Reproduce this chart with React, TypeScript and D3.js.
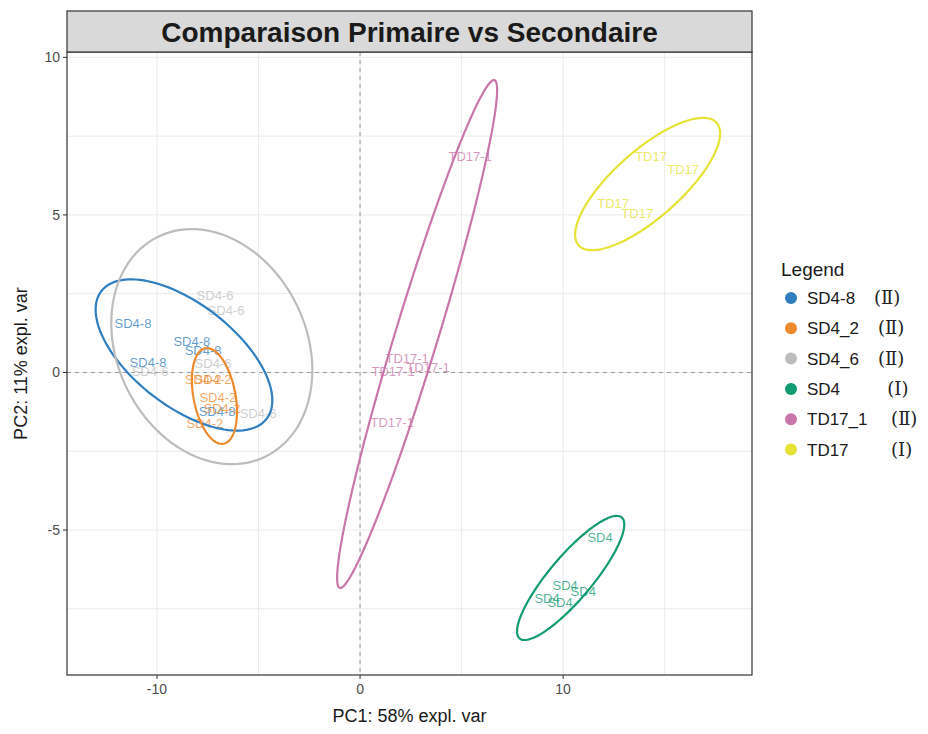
import React from "react";
import * as d3 from "d3";

// ---- data ----
const groups = ["SD4-8", "SD4_2", "SD4_6", "SD4", "TD17_1", "TD17"];
const groupColors = ["#2F7EC0", "#EE8A2E", "#BDBDBD", "#129A72", "#C977AA", "#E6E236"];
const legendLabels = [
  "SD4-8    (Ⅱ)",
  "SD4_2    (Ⅱ)",
  "SD4_6    (Ⅱ)",
  "SD4          (Ⅰ)",
  "TD17_1     (Ⅱ)",
  "TD17         (Ⅰ)",
];
const pointLabels = ["SD4-8", "SD4-2", "SD4-6", "SD4", "TD17-1", "TD17"];

// sample scores (PC1, PC2) per group
const pc1SD48 = [-11.18, -8.28, -7.73, -10.44, -7.04];
const pc2SD48 = [1.57, 1.0, 0.71, 0.33, -1.25];
const pc1SD42 = [-7.73, -7.24, -7.0, -6.8, -7.64];
const pc2SD42 = [-0.21, -0.21, -0.78, -1.13, -1.63];
const pc1SD46 = [-7.14, -6.6, -7.24, -10.34, -5.02];
const pc2SD46 = [2.46, 1.98, 0.3, 0.02, -1.29];
const pc1SD4 = [11.82, 10.1, 10.99, 9.21, 9.85];
const pc2SD4 = [-5.22, -6.75, -6.94, -7.16, -7.29];
const pc1TD171 = [5.42, 2.32, 1.63, 3.35, 1.58];
const pc2TD171 = [6.84, 0.46, 0.02, 0.17, -1.6];
const pc1TD17 = [14.33, 15.91, 12.46, 13.65];
const pc2TD17 = [6.84, 6.43, 5.35, 5.06];

// ellipse parameters per group: center, half-extents, correlation
const ellCx = [-8.67, -7.17, -7.3, 10.37, 2.81, 14.16];
const ellCy = [0.556, -0.746, 0.82, -6.52, 1.22, 5.98];
const ellXh = [4.35, 1.11, 4.95, 2.64, 3.94, 3.57];
const ellYh = [2.4, 1.52, 3.73, 1.97, 8.06, 2.1];
const ellR = [-0.6, -0.33, -0.2, 0.86, 0.96, 0.765];

const xTicks = [-10, 0, 10];
const yTicks = [-5, 0, 5, 10];
const xMinor = [-5, 5, 15];
const yMinor = [-7.5, -2.5, 2.5, 7.5];

const titleText = "Comparaison Primaire vs Secondaire";
const xTitle = "PC1: 58% expl. var";
const yTitle = "PC2: 11% expl. var";
const legendTitle = "Legend";

const pc1s = [pc1SD48, pc1SD42, pc1SD46, pc1SD4, pc1TD171, pc1TD17];
const pc2s = [pc2SD48, pc2SD42, pc2SD46, pc2SD4, pc2TD171, pc2TD17];

export default function App() {
  const W = 928, H = 734;
  const pL = 67, pR = 752, pT = 52, pB = 675;
  const x = d3.scaleLinear().domain([-14.43, 19.3]).range([pL, pR]);
  const y = d3.scaleLinear().domain([-9.6, 10.17]).range([pB, pT]);
  const font = "'Liberation Sans', Arial, sans-serif";

  const ellipsePath = (i: number) => {
    const n = 120;
    const s = Math.sqrt(1 - ellR[i] * ellR[i]);
    const pts: [number, number][] = d3.range(n).map((k) => {
      const t = (2 * Math.PI * k) / n;
      return [ellCx[i] + ellXh[i] * Math.cos(t), ellCy[i] + ellYh[i] * (ellR[i] * Math.cos(t) + s * Math.sin(t))];
    });
    return d3
      .line<[number, number]>()
      .x((d) => x(d[0]))
      .y((d) => y(d[1]))
      .curve(d3.curveLinearClosed)(pts) as string;
  };

  const legY0 = 298, legStep = 30.3;

  return (
    <svg width={W} height={H} style={{ position: "absolute", left: 0, top: 0, background: "#fff" }}>
      <rect x={0} y={0} width={W} height={H} fill="#fff" />
      {/* grid */}
      {xMinor.concat(xTicks).map((v, i) => (
        <line key={"gx" + i} x1={x(v)} x2={x(v)} y1={pT} y2={pB} stroke="#EBEBEB" strokeWidth={1} />
      ))}
      {yMinor.concat(yTicks).map((v, i) => (
        <line key={"gy" + i} x1={pL} x2={pR} y1={y(v)} y2={y(v)} stroke="#EBEBEB" strokeWidth={1} />
      ))}
      {/* zero lines */}
      <line x1={x(0)} x2={x(0)} y1={pT} y2={pB} stroke="#9A9A9A" strokeWidth={1} strokeDasharray="4,4" />
      <line x1={pL} x2={pR} y1={y(0)} y2={y(0)} stroke="#9A9A9A" strokeWidth={1} strokeDasharray="4,4" />
      {/* labels */}
      {groups.map((g, gi) =>
        pc1s[gi].map((v, k) => (
          <text
            key={g + k}
            x={x(v)}
            y={y(pc2s[gi][k])}
            dy="0.35em"
            textAnchor="middle"
            fontFamily={font}
            fontSize={13}
            fill={groupColors[gi]}
            fillOpacity={0.75}
          >
            {pointLabels[gi]}
          </text>
        ))
      )}
      {/* ellipses */}
      {groups.map((g, gi) => (
        <path key={"e" + g} d={ellipsePath(gi)} fill="none" stroke={groupColors[gi]} strokeWidth={2.2} />
      ))}
      {/* panel border */}
      <rect x={pL} y={pT} width={pR - pL} height={pB - pT} fill="none" stroke="#333" strokeWidth={1.2} />
      {/* strip */}
      <rect x={pL} y={11} width={pR - pL} height={pT - 11} fill="#D9D9D9" stroke="#333" strokeWidth={1.2} />
      <text x={(pL + pR) / 2} y={42} textAnchor="middle" fontFamily={font} fontWeight="bold" fontSize={28} fill="#1A1A1A">
        {titleText}
      </text>
      {/* axes ticks */}
      {xTicks.map((v) => (
        <g key={"xt" + v}>
          <line x1={x(v)} x2={x(v)} y1={pB} y2={pB + 4} stroke="#333" />
          <text x={x(v)} y={pB + 19} textAnchor="middle" fontFamily={font} fontSize={14} fill="#4D4D4D">
            {v}
          </text>
        </g>
      ))}
      {yTicks.map((v) => (
        <g key={"yt" + v}>
          <line x1={pL - 4} x2={pL} y1={y(v)} y2={y(v)} stroke="#333" />
          <text x={pL - 7} y={y(v)} dy="0.35em" textAnchor="end" fontFamily={font} fontSize={14} fill="#4D4D4D">
            {v}
          </text>
        </g>
      ))}
      <text x={(pL + pR) / 2} y={722} textAnchor="middle" fontFamily={font} fontSize={18} fill="#1A1A1A">
        {xTitle}
      </text>
      <text
        transform={`translate(27,${(pT + pB) / 2}) rotate(-90)`}
        textAnchor="middle"
        fontFamily={font}
        fontSize={18}
        fill="#1A1A1A"
      >
        {yTitle}
      </text>
      {/* legend */}
      <text x={781} y={276} fontFamily={font} fontSize={19} fill="#1A1A1A">
        {legendTitle}
      </text>
      {legendLabels.map((lab, i) => {
        const idx = lab.indexOf("(");
        return (
          <g key={"lg" + i}>
            <circle cx={791} cy={legY0 + i * legStep} r={6} fill={groupColors[i]} />
            <text x={807} y={legY0 + i * legStep} dy="0.36em" fontFamily={font} fontSize={17} fill="#1A1A1A" style={{ whiteSpace: "pre" }}>
              <tspan>{lab.slice(0, idx)}</tspan>
              <tspan fontFamily="'DejaVu Serif', 'Liberation Serif', serif" fontSize={18} fill="#222">
                {lab.slice(idx)}
              </tspan>
            </text>
          </g>
        );
      })}
    </svg>
  );
}
